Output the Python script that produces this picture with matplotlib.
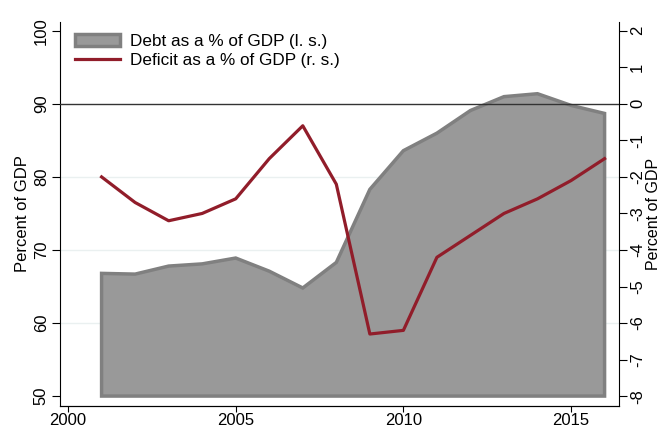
import matplotlib.pyplot as plt
import numpy as np

plt.rcParams['font.family'] = ['Liberation Sans', 'DejaVu Sans']
plt.rcParams['axes.unicode_minus'] = False

years = [2001, 2002, 2003, 2004, 2005, 2006, 2007, 2008,
         2009, 2010, 2011, 2012, 2013, 2014, 2015, 2016]
debt = [66.8, 66.7, 67.8, 68.1, 68.9, 67.1, 64.8, 68.3,
        78.3, 83.6, 86.0, 89.1, 91.0, 91.4, 89.8, 88.7]
deficit = [-2.0, -2.7, -3.2, -3.0, -2.6, -1.5, -0.6, -2.2,
           -6.3, -6.2, -4.2, -3.6, -3.0, -2.6, -2.1, -1.5]

fig = plt.figure(figsize=(6.61, 4.28), dpi=100)
ax = fig.add_axes([60/661, 22/428, 559/661, 384/428])

# debt area, drawn as polygon down to 50
px = [years[0]] + years + [years[-1]]
py = [50] + debt + [50]
ax.fill(px, py, facecolor='#999999', edgecolor='#808080', linewidth=2.5,
        joinstyle='miter', zorder=2, label='Debt as a % of GDP (l. s.)')

for g in [60, 70, 80]:
    ax.axhline(g, color='#eaf0f0', linewidth=1, zorder=0)
ax.axhline(90, color='#333333', linewidth=1, zorder=3)

ax.set_xlim(1999.76, 2016.43)
ax.set_ylim(48.64, 101.22)
ax.set_xticks([2000, 2005, 2010, 2015])
ax.set_yticks([50, 60, 70, 80, 90, 100])
for lab in ax.get_yticklabels():
    lab.set_rotation(90)
    lab.set_va('center')
ax.tick_params(labelsize=12, length=5, width=0.8, colors='black')
ax.tick_params(axis='x', length=4, pad=1)
ax.tick_params(axis='y', length=6, pad=2)
ax.set_ylabel('Percent of GDP', fontsize=12, labelpad=3)
for s in ['top', 'right']:
    ax.spines[s].set_visible(False)

ax2 = ax.twinx()
ax2.plot(years, deficit, color='#911d2a', linewidth=2.3, zorder=4,
         label='Deficit as a % of GDP (r. s.)')
ax2.set_ylim(-8.27, 2.24)
ax2.set_yticks(np.arange(-8, 3, 1))
for lab in ax2.get_yticklabels():
    lab.set_rotation(90)
    lab.set_va('center')
ax2.tick_params(labelsize=12, length=6, width=0.8, pad=2)
ax2.set_ylabel('Percent of GDP', fontsize=11.5, rotation=90, labelpad=1)
for s in ['top', 'left']:
    ax2.spines[s].set_visible(False)

h1, l1 = ax.get_legend_handles_labels()
h2, l2 = ax2.get_legend_handles_labels()
ax2.legend(h1 + h2, l1 + l2, loc='upper left', frameon=False, fontsize=12.3,
           bbox_to_anchor=(0.0, 1.01), handlelength=2.6, handletextpad=0.6,
           labelspacing=0.25)

plt.savefig('out.png', dpi=100)
